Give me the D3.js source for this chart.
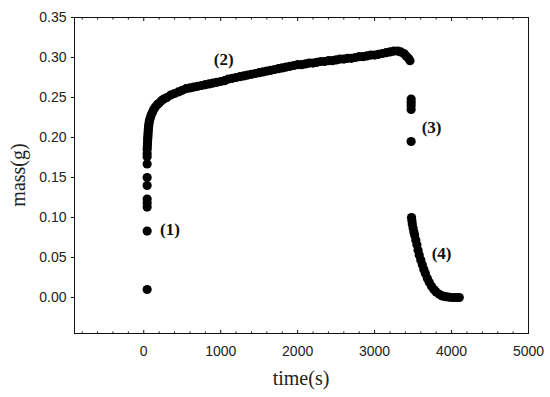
<!DOCTYPE html>
<html><head><meta charset="utf-8">
<script src="https://cdn.jsdelivr.net/npm/d3@7"></script>
<style>body{margin:0;background:#fff}</style>
</head><body>
<svg id="c" width="550" height="397"></svg>
<script>
// ---- data ----
const xTicks = [0, 1000, 2000, 3000, 4000, 5000];
const yTicks = [0.00, 0.05, 0.10, 0.15, 0.20, 0.25, 0.30, 0.35];

// (1) initial uptake, all at t ≈ 44 s
const t1 = [44, 44, 44, 44, 44, 44, 44, 44, 44, 44, 44];
const m1 = [0.010, 0.083, 0.113, 0.118, 0.123, 0.140, 0.150, 0.167, 0.176, 0.180, 0.185];

// (2) slow growth
const t2 = [46, 48, 50, 52, 54, 56, 58, 60, 63, 67, 72, 80, 90, 100, 115, 130, 150, 175, 200, 230, 260, 300,
  350, 400, 450, 500, 550, 600, 650, 700, 750, 800, 850, 900, 950, 1000, 1050, 1100, 1150, 1200, 1250, 1300,
  1350, 1400, 1450, 1500, 1550, 1600, 1650, 1700, 1750, 1800, 1850, 1900, 1950, 2000, 2050, 2100, 2150, 2200,
  2250, 2300, 2350, 2400, 2450, 2500, 2550, 2600, 2650, 2700, 2750, 2800, 2850, 2900, 2950, 3000, 3050, 3100,
  3150, 3200, 3250, 3300, 3340, 3380, 3410, 3440, 3460];
const m2 = [0.188, 0.192, 0.196, 0.199, 0.202, 0.205, 0.208, 0.211, 0.214, 0.217, 0.220, 0.223, 0.226, 0.229,
  0.232, 0.235, 0.238, 0.241, 0.243, 0.246, 0.248, 0.250, 0.253, 0.255, 0.257, 0.259, 0.261, 0.262, 0.263,
  0.264, 0.265, 0.266, 0.267, 0.268, 0.269, 0.270, 0.271, 0.273, 0.274, 0.275, 0.276, 0.277, 0.278, 0.279,
  0.280, 0.281, 0.282, 0.283, 0.284, 0.285, 0.286, 0.287, 0.288, 0.289, 0.290, 0.291, 0.291, 0.292, 0.293,
  0.293, 0.294, 0.295, 0.295, 0.296, 0.296, 0.297, 0.298, 0.298, 0.299, 0.299, 0.300, 0.301, 0.301, 0.302,
  0.303, 0.303, 0.304, 0.305, 0.306, 0.307, 0.308, 0.308, 0.307, 0.305, 0.302, 0.299, 0.296];

// (3) drop
const t3 = [3475, 3475, 3475, 3475, 3475];
const m3 = [0.248, 0.244, 0.240, 0.235, 0.195];

// (4) decay
const t4 = [3480, 3485, 3490, 3500, 3510, 3520, 3535, 3550, 3565, 3580, 3600, 3620, 3640, 3660, 3685, 3710,
  3740, 3770, 3800, 3840, 3880, 3920, 3960, 4000, 4040, 4080, 4100];
const m4 = [0.100, 0.096, 0.092, 0.087, 0.082, 0.078, 0.072, 0.066, 0.059, 0.053, 0.047, 0.041, 0.035, 0.030,
  0.024, 0.019, 0.014, 0.010, 0.007, 0.004, 0.002, 0.001, 0.0005, 0.000, 0.000, 0.000, 0.000];

const labels = ["(1)", "(2)", "(3)", "(4)"];
const labelT = [340, 1040, 3740, 3870];
const labelM = [0.085, 0.298, 0.213, 0.055];

// ---- drawing ----
const svg = d3.select("#c");
const L = 74.5, R = 528.5, T = 17.5, B = 333.5;
const x = d3.scaleLinear().domain([-900, 5000]).range([L, R]);
const y = d3.scaleLinear().domain([-0.045, 0.35]).range([B, T]);

// frame
svg.append("rect").attr("x", L).attr("y", T).attr("width", R - L).attr("height", B - T)
  .attr("fill", "none").attr("stroke", "#111").attr("stroke-width", 1);

const minor = d3.range(-800, 5001, 200);
const font = "'Liberation Sans', Arial, sans-serif";

// bottom axis: inward ticks
const gb = svg.append("g").attr("transform", `translate(0,${B})`);
gb.selectAll("line").data(minor).join("line")
  .attr("x1", d => x(d)).attr("x2", d => x(d))
  .attr("y1", 0).attr("y2", d => d % 1000 === 0 ? -3.5 : -2)
  .attr("stroke", "#111");
gb.selectAll("text").data(xTicks).join("text")
  .attr("x", d => x(d)).attr("y", 22)
  .attr("text-anchor", "middle").attr("font-family", font).attr("font-size", 14).attr("fill", "#222")
  .text(d => d3.format("d")(d));

// top axis: inward ticks
const gt = svg.append("g").attr("transform", `translate(0,${T})`);
gt.selectAll("line").data(minor).join("line")
  .attr("x1", d => x(d)).attr("x2", d => x(d))
  .attr("y1", 0).attr("y2", d => d % 1000 === 0 ? 3.5 : 2)
  .attr("stroke", "#111");

// left axis: outward ticks
const gl = svg.append("g").attr("transform", `translate(${L},0)`);
gl.selectAll("line").data(yTicks).join("line")
  .attr("x1", -3.5).attr("x2", 0).attr("y1", d => y(d)).attr("y2", d => y(d))
  .attr("stroke", "#111");
gl.selectAll("text").data(yTicks).join("text")
  .attr("x", -8).attr("y", d => y(d)).attr("dy", "0.35em")
  .attr("text-anchor", "end").attr("font-family", font).attr("font-size", 14).attr("fill", "#222")
  .text(d => d3.format(".2f")(d));

// axis titles
svg.append("text").attr("x", 301).attr("y", 385).attr("text-anchor", "middle")
  .attr("font-family", "'Liberation Serif', 'Times New Roman', serif").attr("font-size", 20).attr("fill", "#222")
  .text("time(s)");
svg.append("text").attr("transform", "translate(25,175) rotate(-90)").attr("text-anchor", "middle")
  .attr("font-family", "'Liberation Serif', 'Times New Roman', serif").attr("font-size", 20).attr("fill", "#222")
  .text("mass(g)");

// points
const pts = [];
[[t1, m1], [t2, m2], [t3, m3], [t4, m4]].forEach(([ts, ms]) => ts.forEach((t, i) => pts.push([t, ms[i]])));
svg.append("g").selectAll("circle").data(pts).join("circle")
  .attr("cx", d => x(d[0])).attr("cy", d => y(d[1])).attr("r", 4.6).attr("fill", "#000");

// annotations
svg.append("g").selectAll("text").data(labels).join("text")
  .attr("x", (d, i) => x(labelT[i])).attr("y", (d, i) => y(labelM[i])).attr("dy", "0.35em")
  .attr("text-anchor", "middle").attr("font-family", "'Liberation Serif', 'Times New Roman', serif")
  .attr("font-weight", "bold").attr("font-size", 17).attr("fill", "#111")
  .text(d => d);
</script>
</body></html>
